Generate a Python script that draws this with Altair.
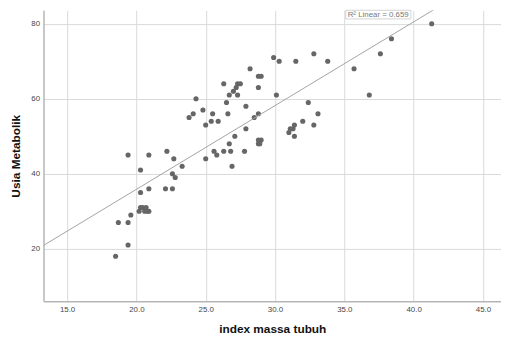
import altair as alt
import pandas as pd

bmi = [18.5, 18.7, 19.4, 19.4, 19.6, 19.4, 20.3, 20.3, 20.9, 20.9,
       20.2, 20.3, 20.45, 20.6, 20.7, 20.8, 20.9,
       22.1, 22.6, 22.6, 22.8, 23.3, 22.7, 22.2, 25.0, 26.9,
       23.8, 24.1, 24.3, 24.8, 25.0, 25.4, 25.5, 25.9, 25.6, 25.8,
       26.3, 26.3, 26.5, 26.6, 26.7, 26.7, 26.8, 27.0, 27.1, 27.2,
       27.3, 27.3, 27.5, 27.8, 27.9, 27.9, 28.2, 28.5, 28.8, 29.0,
       28.8, 28.8, 28.8, 28.8, 28.9, 29.0,
       29.9, 30.3, 30.1, 31.5, 32.8, 33.8, 32.4, 33.1, 32.8, 32.0,
       31.0, 31.1, 31.3, 31.4, 31.4, 35.7, 36.8, 37.6, 38.4, 41.3]
usia = [18, 27, 27, 21, 29, 45, 41, 35, 36, 45,
        30, 31, 31, 30, 31, 30, 30,
        36, 36, 40, 39, 42, 44, 46, 44, 42,
        55, 56, 60, 57, 53, 54, 56, 54, 46, 45,
        46, 64, 59, 56, 61, 48, 46, 62, 50, 63,
        61, 64, 64, 46, 58, 52, 68, 55, 66, 66,
        63, 56, 48, 49, 48, 49,
        71, 70, 61, 70, 72, 70, 59, 56, 53, 54,
        51, 52, 52, 53, 50, 68, 61, 72, 76, 80]

x_ticks = [15, 20, 25, 30, 35, 40, 45]
y_ticks = [20, 40, 60, 80]
x_domain = [13.3, 46.3]
y_domain = [6, 83.6]

r2_text = ["R\u00b2 Linear = 0.659"]
r2_x = [37.44]
r2_y = [82.3]
box_x = [35.1]
box_x2 = [39.8]
box_y = [81.3]
box_y2 = [83.6]

df = pd.DataFrame({"bmi": bmi, "usia": usia})
lab = pd.DataFrame({"t": r2_text, "x": r2_x, "y": r2_y,
                    "bx": box_x, "bx2": box_x2, "by": box_y, "by2": box_y2})

xscale = alt.Scale(domain=x_domain, nice=False, zero=False)
yscale = alt.Scale(domain=y_domain, nice=False, zero=False)

xaxis = alt.Axis(values=x_ticks, format=".1f", title="index massa tubuh",
                 grid=True, ticks=False, labelPadding=4, titlePadding=11)
yaxis = alt.Axis(values=y_ticks, format="d", title="Usia Metabolik",
                 grid=True, ticks=False, labelPadding=4, titlePadding=8)

points = alt.Chart(df).mark_circle(size=27, color="#666666", opacity=1).encode(
    x=alt.X("bmi:Q", scale=xscale, axis=xaxis),
    y=alt.Y("usia:Q", scale=yscale, axis=yaxis),
)

line = alt.Chart(df).transform_regression(
    "bmi", "usia", extent=x_domain
).mark_line(color="#a3a3a3", strokeWidth=1, clip=True).encode(
    x=alt.X("bmi:Q", scale=xscale),
    y=alt.Y("usia:Q", scale=yscale),
)

box = alt.Chart(lab).mark_rect(fill="white", stroke="#c8c8c8", strokeWidth=0.8).encode(
    x=alt.X("bx:Q", scale=xscale), x2="bx2:Q",
    y=alt.Y("by:Q", scale=yscale), y2="by2:Q",
)

label = alt.Chart(lab).mark_text(fontSize=8, color="#777777", font="Liberation Sans").encode(
    x=alt.X("x:Q", scale=xscale),
    y=alt.Y("y:Q", scale=yscale),
    text="t:N",
)

chart = alt.layer(points, line, box, label).properties(
    width=464, height=295,
    autosize=alt.AutoSizeParams(type="none"),
    padding={"left": 36, "top": 0, "right": 0, "bottom": 35},
).configure_view(stroke="transparent").configure_axis(
    gridColor="#d9d9d9", gridWidth=1,
    domainColor="#b5b5b5", domainWidth=1.5,
    labelFont="Liberation Sans", labelFontSize=8, labelColor="#444444",
    titleFont="Liberation Sans", titleFontSize=12, titleFontWeight="bold",
    titleColor="#111111",
)

chart.save("out.html", embed_options={"renderer": "svg", "actions": False})
